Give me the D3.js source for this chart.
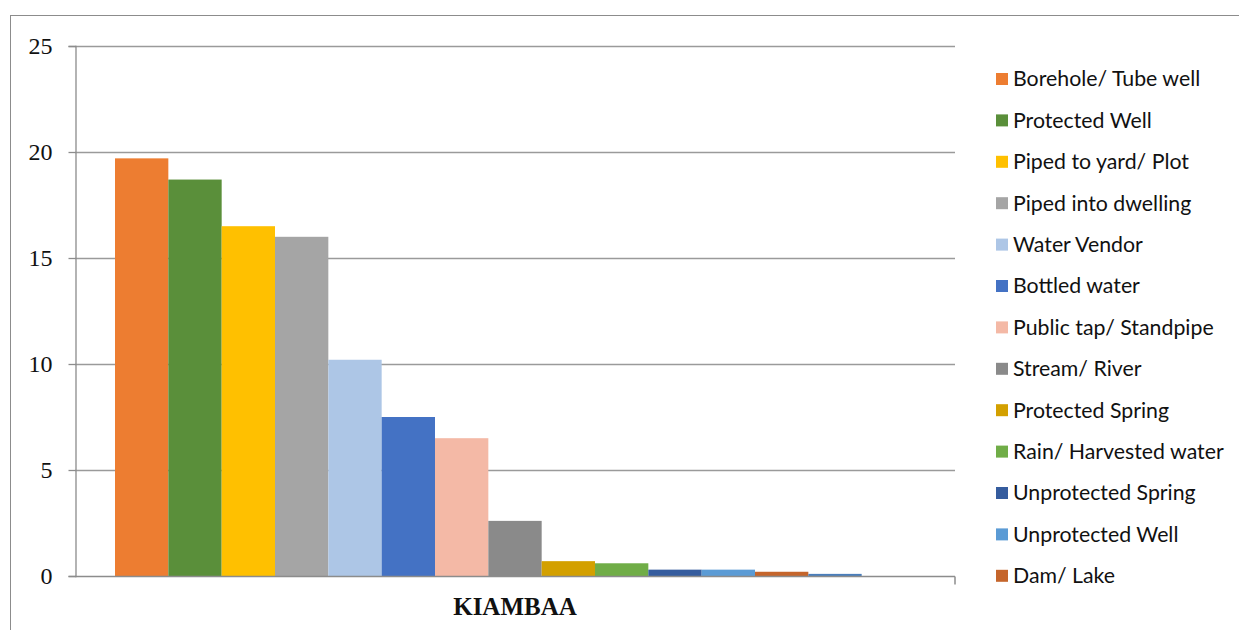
<!DOCTYPE html>
<html>
<head>
<meta charset="utf-8">
<script src="https://cdn.jsdelivr.net/npm/d3@7"></script>
<style>
  html, body { margin: 0; padding: 0; background: #fff; }
  svg { display: block; }
</style>
</head>
<body>
<svg id="chart" width="1239" height="630"></svg>
<script>
// Main sources of drinking water, Kiambaa (percent of households)
const categories = ["KIAMBAA"];
const sources = [
  "Borehole/ Tube well", "Protected Well", "Piped to yard/ Plot", "Piped into dwelling",
  "Water Vendor", "Bottled water", "Public tap/ Standpipe", "Stream/ River",
  "Protected Spring", "Rain/ Harvested water", "Unprotected Spring", "Unprotected Well",
  "Dam/ Lake", "Other", "Don't know"
];
const values = [19.7, 18.7, 16.5, 16.0, 10.2, 7.5, 6.5, 2.6, 0.7, 0.6, 0.3, 0.3, 0.2, 0.1, 0];
const colors = [
  "#ED7D31", "#5A8F3A", "#FFC000", "#A5A5A5", "#ADC6E6", "#4472C4", "#F4B9A6", "#8A8A8A",
  "#D3A000", "#70AD47", "#355C9E", "#5B9BD5", "#C5652B", "#4A7EBB", "#9E480E"
];
const yTicks = [0, 5, 10, 15, 20, 25];

const svg = d3.select("#chart");
const plot = { left: 75, right: 955, top: 46, bottom: 576 };

// chart frame
svg.append("rect")
  .attr("x", 10.5).attr("y", 15.5)
  .attr("width", 1300).attr("height", 700)
  .attr("fill", "none").attr("stroke", "#8c8c8c").attr("stroke-width", 1);

const y = d3.scaleLinear().domain([0, 25]).range([plot.bottom, plot.top]);
const x0 = d3.scaleBand().domain(categories).range([plot.left, plot.right]).padding(0);
const gap = x0.bandwidth() * 40 / 880;
const x1 = d3.scaleBand().domain(sources).range([gap, x0.bandwidth() - gap]).padding(0);

// gridlines
svg.append("g")
  .selectAll("line")
  .data(yTicks.filter(t => t > 0))
  .join("line")
  .attr("x1", plot.left).attr("x2", plot.right)
  .attr("y1", d => Math.round(y(d)) + 0.5).attr("y2", d => Math.round(y(d)) + 0.5)
  .attr("stroke", "#9a9a9a").attr("stroke-width", 1.3);

// bars
const groups = svg.append("g")
  .selectAll("g")
  .data(categories)
  .join("g")
  .attr("transform", d => `translate(${x0(d)},0)`);

groups.selectAll("rect")
  .data(() => sources.map((s, i) => ({ s, v: values[i], c: colors[i] })))
  .join("rect")
  .attr("x", d => x1(d.s))
  .attr("width", x1.bandwidth())
  .attr("y", d => y(d.v))
  .attr("height", d => y(0) - y(d.v))
  .attr("fill", d => d.c);

// y axis
const yAxis = svg.append("g")
  .attr("transform", `translate(${plot.left + 0.5},0)`)
  .call(d3.axisLeft(y).tickValues(yTicks).tickSize(7).tickPadding(16).tickFormat(d3.format("d")));
yAxis.select(".domain").attr("stroke", "#8c8c8c").attr("stroke-width", 1.3);
yAxis.selectAll(".tick line").attr("stroke", "#8c8c8c").attr("stroke-width", 1.3);
yAxis.selectAll(".tick text")
  .attr("fill", "#111")
  .style("font-family", "'Liberation Serif', 'Times New Roman', serif")
  .style("font-size", "24px");

// x axis
const xAxis = svg.append("g")
  .attr("transform", `translate(0,${plot.bottom + 0.5})`);
xAxis.append("line")
  .attr("x1", plot.left).attr("x2", plot.right)
  .attr("stroke", "#8c8c8c").attr("stroke-width", 1.5);
xAxis.append("line")
  .attr("x1", plot.right).attr("x2", plot.right)
  .attr("y1", 0).attr("y2", 8)
  .attr("stroke", "#8c8c8c").attr("stroke-width", 1.5);
xAxis.selectAll("text")
  .data(categories)
  .join("text")
  .attr("x", d => x0(d) + x0.bandwidth() / 2)
  .attr("y", 38)
  .attr("text-anchor", "middle")
  .attr("fill", "#111")
  .style("font-family", "'Liberation Serif', 'Times New Roman', serif")
  .style("font-weight", "bold")
  .style("font-size", "25px")
  .text(d => d);

// legend (rows that fit in the legend area)
const rowH = 41.4, legendTop = 79, legendBottom = 600;
const legendItems = sources
  .map((s, i) => ({ s, c: colors[i], cy: legendTop + i * rowH }))
  .filter(d => d.cy <= legendBottom);
const legend = svg.append("g");
const li = legend.selectAll("g").data(legendItems).join("g")
  .attr("transform", d => `translate(996,${d.cy})`);
li.append("rect")
  .attr("x", 0).attr("y", -6).attr("width", 12).attr("height", 12)
  .attr("fill", d => d.c);
li.append("text")
  .attr("x", 17).attr("y", 0)
  .attr("dy", "0.35em")
  .attr("fill", "#111")
  .style("font-family", "Lato, 'Open Sans', sans-serif")
  .style("font-size", "21.3px")
  .text(d => d.s);
</script>
</body>
</html>
